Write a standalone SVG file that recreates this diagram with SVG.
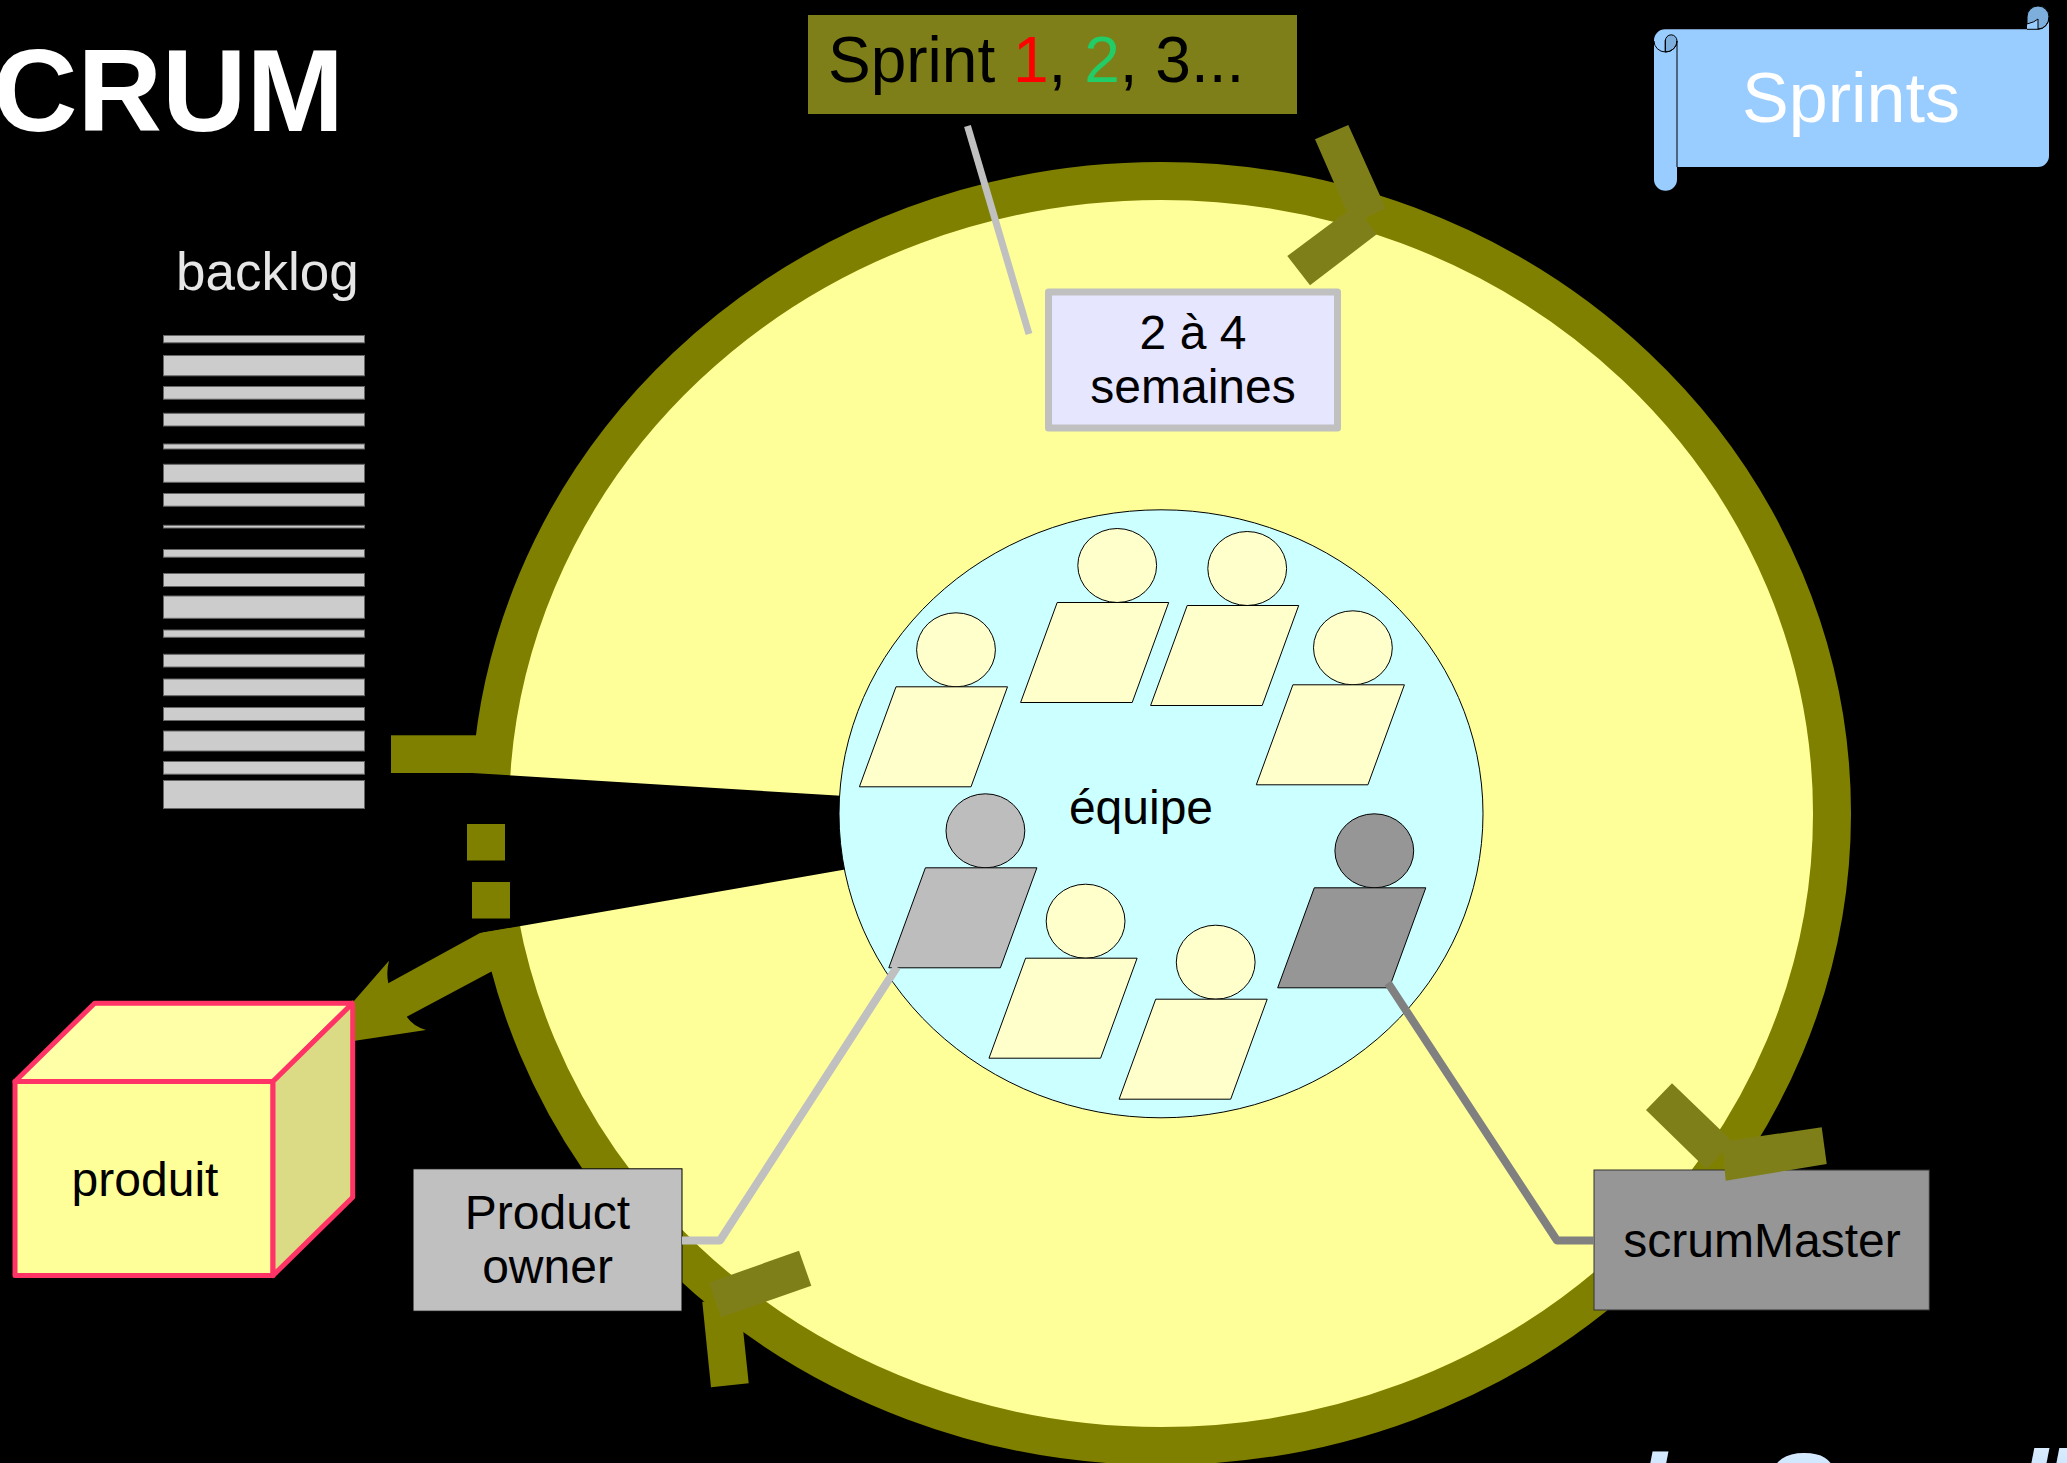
<svg xmlns="http://www.w3.org/2000/svg" width="2067" height="1463" viewBox="0 0 2067 1463">
<defs>
<g id="fig"><ellipse cx="60" cy="-37" rx="39.4" ry="37"/><polygon points="0,0 111.5,0 75,100 -36.6,100"/></g>
<linearGradient id="tg" x1="0" y1="0" x2="0" y2="1"><stop offset="0" stop-color="#E6F2FF"/><stop offset="1" stop-color="#99CCFF"/></linearGradient>
</defs>
<style>
text{font-family:"Liberation Sans",Arial,sans-serif;font-size:48px;fill:#000}
.mid{text-anchor:middle}
.p{stroke:#000;stroke-width:1;fill:#FFFFCC}
.bar{fill:#CCCCCC;stroke:#666;stroke-width:1}
.ol{fill:#808000}
.ar{fill:#7F7F19}
.ln{fill:none;stroke-linejoin:round;stroke-width:8}
.cube{stroke:#FF3366;stroke-width:5;stroke-linejoin:round}
.sc{stroke:#000;stroke-width:1}
</style>
<rect width="2067" height="1463" fill="#000"/>
<text x="-7" y="130.5" style="font-size:117px;font-weight:bold;fill:#fff">CRUM</text>

<g id="sprint-cycle">
<ellipse cx="1161" cy="813.5" rx="671" ry="632.5" fill="#FFFF99" stroke="#808000" stroke-width="38"/>
<polygon points="440,773 472,773 845,796 845,869.6 480,933 440,940" fill="#000"/>
</g>
<g id="equipe">
<ellipse cx="1161" cy="813.8" rx="322" ry="304" fill="#CCFFFF" stroke="#000" stroke-width="1"/>
<text class="mid" x="1141" y="823.5">équipe</text>
</g>
<g id="team">
<use id="person-1" href="#fig" x="896" y="686.8" class="p"/>
<use id="person-2" href="#fig" x="1057.2" y="602.5" class="p"/>
<use id="person-3" href="#fig" x="1187.2" y="605.5" class="p"/>
<use id="person-4" href="#fig" x="1292.9" y="684.8" class="p"/>
<use id="person-5" href="#fig" x="925.4" y="867.8" class="p" style="fill:#BDBDBD"/>
<use id="person-6" href="#fig" x="1025.6" y="958.2" class="p"/>
<use id="person-7" href="#fig" x="1155.7" y="999.2" class="p"/>
<use id="person-8" href="#fig" x="1314.3" y="887.8" class="p" style="fill:#969696"/>
</g>
<g id="sprint-label">
<rect x="808" y="15" width="489" height="99" fill="#7F7F19"/>
<text x="828" y="82" style="font-size:64px">Sprint <tspan style="fill:#FF0000">1</tspan>, <tspan style="fill:#22CC66">2</tspan>, 3...</text>
</g>
<g id="duree">
<rect x="1048.5" y="292" width="289" height="136" fill="#E6E6FF" stroke="#C0C0C0" stroke-width="7" stroke-linejoin="round"/>
<text class="mid" x="1193" y="349">2 à 4</text>
<text class="mid" x="1193" y="403">semaines</text>
</g>
<g id="sprints-scroll">
<path d="M1677 167H2038A11 11 0 0 0 2049 156V17A11 11 0 0 0 2027 17V29.3H1665A11 11 0 0 0 1654 40V179.5A11.3 11 0 0 0 1677 179.5Z" fill="#99CCFF"/>
<path d="M2027 24V17A11 11 0 0 1 2049 17A11 12 0 0 1 2038 29V19Q2035 22 2027 24Z" fill="#7EAEDB" class="sc"/>
<path d="M2027 29.3H2038A11 12 0 0 0 2049 17" fill="none" class="sc"/>
<path d="M1665.3 52V41A5.7 6 0 0 1 1677 41A11.5 11 0 0 1 1665.3 52Z" fill="#7EAEDB" class="sc"/>
<path d="M1654 41A11.5 11 0 0 0 1677 41V167M1665.3 40V52" fill="none" class="sc"/>
<text class="mid" x="1851" y="122" style="font-size:70px;fill:#fff">Sprints</text>
</g>
<g id="backlog">
<text x="176" y="290" style="font-size:53px;fill:#E6E6E6">backlog</text>
<g class="bar">
<rect x="163.5" y="335.5" width="201" height="7.3"/>
<rect x="163.5" y="355.5" width="201" height="20.3"/>
<rect x="163.5" y="386.5" width="201" height="12.7"/>
<rect x="163.5" y="413.3" width="201" height="12.7"/>
<rect x="163.5" y="444" width="201" height="5"/>
<rect x="163.5" y="464.3" width="201" height="18"/>
<rect x="163.5" y="493.5" width="201" height="12.7"/>
<rect x="163.5" y="525.3" width="201" height="2.7"/>
<rect x="163.5" y="549.5" width="201" height="7.7"/>
<rect x="163.5" y="573.5" width="201" height="13"/>
<rect x="163.5" y="596" width="201" height="22.3"/>
<rect x="163.5" y="630" width="201" height="7.3"/>
<rect x="163.5" y="654.3" width="201" height="12.7"/>
<rect x="163.5" y="679" width="201" height="16.7"/>
<rect x="163.5" y="707.5" width="201" height="13"/>
<rect x="163.5" y="731" width="201" height="20"/>
<rect x="163.5" y="761.5" width="201" height="12.7"/>
<rect x="163.5" y="780.5" width="201" height="28"/>
</g>
</g>
<g id="produit">
<polygon class="cube" points="15,1081.5 273,1081.5 273,1275.5 15,1275.5" fill="#FFFF99"/>
<polygon class="cube" points="15,1081.5 94.6,1003.2 352.7,1003.2 273,1081.5" fill="#FFFFA8"/>
<polygon class="cube" points="273,1081.5 352.7,1003.2 352.7,1197.2 273,1275.5" fill="#DBDB85"/>
<text class="mid" x="145" y="1195.5">produit</text>
</g>
<g id="product-owner">
<rect x="413" y="1168.8" width="269" height="142.4" fill="#C0C0C0" stroke="#000" stroke-width="1"/>
<text class="mid" x="547.5" y="1228.5">Product</text>
<text class="mid" x="547.5" y="1283">owner</text>
</g>
<g id="scrum-master">
<rect x="1594" y="1170" width="335.3" height="140" fill="#969696" stroke="#333" stroke-width="1"/>
<text class="mid" x="1762" y="1256.5">scrumMaster</text>
</g>

<g id="connectors">
<path class="ln" stroke="#C0C0C0" d="M682 1240.5H720L897 967"/>
<path class="ln" stroke="#808080" d="M1594 1240.5H1557L1388 983"/>
<path class="ln" stroke="#C0C0C0" style="stroke-width:7" d="M967.5 126L1029 334"/>
<rect class="ol" x="391" y="735.3" width="85" height="37.7"/>
<rect class="ol" x="467" y="824" width="38" height="36.5"/>
<rect class="ol" x="472" y="882" width="38" height="36.5"/>
<path class="ol" d="M480 933L515 927.5V965L491 971.7L406.7 1016.7Q413 1026 426 1030L355 1040.7V1003L353.3 1001.7L389 960.7Q386 972 388.3 983.3Z"/>
<polygon class="ar" points="1348.3,125 1385.7,208.3 1365,218.3 1376.7,234.3 1310,285.3 1287.3,256 1346.7,211.7 1315,139.3"/>
<polygon class="ar" points="1672,1083.3 1646,1110 1706.7,1169.3 1732.7,1141.7"/>
<polygon class="ar" points="1821.7,1127.3 1826.7,1164 1725.7,1180.7 1722.3,1141.7"/>
<polygon class="ol" points="702.3,1301.7 711,1387.3 748.7,1383.3 740,1300"/>
<polygon class="ar" points="799,1250.7 811.3,1285.7 721,1317.3 709,1282.7"/>
</g>
<text y="1527" style="font-size:110px;font-weight:bold;font-style:italic;fill:url(#tg)"><tspan x="1636">L</tspan><tspan x="1762" y="1530">S</tspan><tspan x="2017" y="1527">l</tspan><tspan x="2042">l</tspan></text>
</svg>
